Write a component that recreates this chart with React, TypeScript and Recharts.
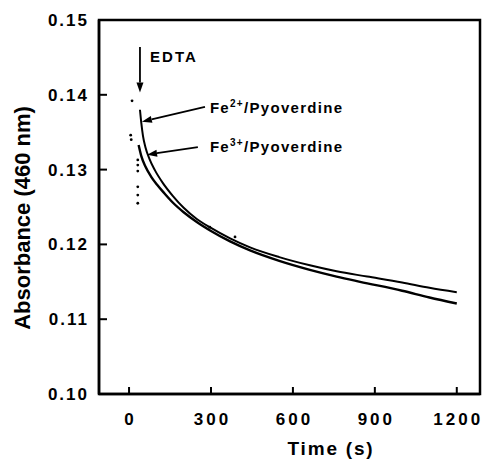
import React from 'react';
import { ComposedChart, Line, Scatter, XAxis, YAxis, ReferenceArea } from 'recharts';

// ---- data ----
const timeTicks = [0, 300, 600, 900, 1200];
const absTicks = [0.1, 0.11, 0.12, 0.13, 0.14, 0.15];

const fe2Time = [40, 45, 51, 60, 75, 95, 124, 160, 200, 248, 300, 370, 443, 550, 662, 760, 872, 1000, 1100, 1200];
const fe2Abs = [0.138, 0.1362, 0.1345, 0.133, 0.1314, 0.1299, 0.1282, 0.1265, 0.1249, 0.1234, 0.1222, 0.1208, 0.1196, 0.1183, 0.1172, 0.1164, 0.1157, 0.1149, 0.1142, 0.1136];

const fe3Time = [35, 45, 60, 80, 102, 130, 160, 200, 248, 300, 370, 443, 550, 662, 760, 846, 1000, 1100, 1200];
const fe3Abs = [0.1333, 0.1318, 0.1304, 0.1291, 0.128, 0.1268, 0.1256, 0.1243, 0.123, 0.1218, 0.1204, 0.1192, 0.1178, 0.1166, 0.1157, 0.115, 0.1138, 0.1129, 0.1121];

// stray points before / just after EDTA addition
const dotTime = [11, 6, 8, 32, 32, 32, 32, 32, 32, 296, 388];
const dotAbs = [0.1392, 0.1346, 0.134, 0.1313, 0.1306, 0.1298, 0.1277, 0.1266, 0.1255, 0.1223, 0.121];

const fe2 = fe2Time.map((t, i) => ({ t, a: fe2Abs[i] }));
const fe3 = fe3Time.map((t, i) => ({ t, a: fe3Abs[i] }));
const dots = dotTime.map((t, i) => ({ t, a: dotAbs[i] }));

// ---- layout ----
const W = 482;
const H = 468;
const PL = 99;
const PR = 480;
const PT = 20;
const PB = 394;
const X_DOMAIN = [-110, 1285];
const Y_DOMAIN = [0.1, 0.15];
const FONT = '"Liberation Sans", Arial, Helvetica, sans-serif';

const sx = (t: number) => PL + ((t - X_DOMAIN[0]) / (X_DOMAIN[1] - X_DOMAIN[0])) * (PR - PL);
const sy = (a: number) => PT + ((Y_DOMAIN[1] - a) / (Y_DOMAIN[1] - Y_DOMAIN[0])) * (PB - PT);

const YTick = (props: any) => {
  const { y, payload } = props;
  return (
    <g>
      <line x1={PL} x2={PL + 8} y1={y} y2={y} stroke="#000" strokeWidth={2} />
      <text x={89} y={y} dy={6} textAnchor="end" fontFamily={FONT} fontWeight="bold" fontSize={17} letterSpacing={2} fill="#000">
        {payload.value.toFixed(2)}
      </text>
    </g>
  );
};

const XTick = (props: any) => {
  const { x, payload } = props;
  return (
    <g>
      <line x1={x} x2={x} y1={PB} y2={PB - 7} stroke="#000" strokeWidth={2} />
      <text x={x + 1.5} y={PB + 31} textAnchor="middle" fontFamily={FONT} fontWeight="bold" fontSize={17} letterSpacing={3} fill="#000">
        {payload.value}
      </text>
    </g>
  );
};

const Arrow = ({ from, to }: { from: [number, number]; to: [number, number] }) => {
  const x1 = sx(from[0]);
  const y1 = sy(from[1]);
  const x2 = sx(to[0]);
  const y2 = sy(to[1]);
  const dx = x2 - x1;
  const dy = y2 - y1;
  const len = Math.hypot(dx, dy);
  const ux = dx / len;
  const uy = dy / len;
  const hl = 10;
  const hw = 3.5;
  const bx = x2 - ux * hl;
  const by = y2 - uy * hl;
  return (
    <g>
      <line x1={x1} y1={y1} x2={bx} y2={by} stroke="#000" strokeWidth={1.8} />
      <polygon
        points={`${x2},${y2} ${bx - uy * hw},${by + ux * hw} ${bx + uy * hw},${by - ux * hw}`}
        fill="#000"
      />
    </g>
  );
};

const Dot = (props: any) => <circle cx={props.cx} cy={props.cy} r={1.4} fill="#000" />;

export default function App() {
  return (
    <div style={{ position: 'absolute', left: 0, top: 0, width: W, height: H, background: '#fff' }}>
      <ComposedChart width={W} height={H} margin={{ top: PT, right: W - PR, bottom: 0, left: 0 }}>
        <XAxis
          type="number"
          dataKey="t"
          domain={X_DOMAIN}
          ticks={timeTicks}
          allowDataOverflow
          height={H - PB}
          axisLine={{ stroke: '#000', strokeWidth: 2.5 }}
          tickLine={false}
          tick={<XTick />}
        />
        <YAxis
          type="number"
          dataKey="a"
          domain={Y_DOMAIN}
          ticks={absTicks}
          allowDataOverflow
          width={PL}
          axisLine={{ stroke: '#000', strokeWidth: 2.5 }}
          tickLine={false}
          tick={<YTick />}
        />
        <ReferenceArea x1={X_DOMAIN[0]} x2={X_DOMAIN[1]} y1={Y_DOMAIN[0]} y2={Y_DOMAIN[1]} fill="none" stroke="#000" strokeWidth={2.5} />
        <Line data={fe2} dataKey="a" type="monotone" stroke="#000" strokeWidth={2} dot={false} isAnimationActive={false} />
        <Line data={fe3} dataKey="a" type="monotone" stroke="#000" strokeWidth={2.4} dot={false} isAnimationActive={false} />
        <Scatter data={dots} dataKey="a" shape={<Dot />} isAnimationActive={false} />
      </ComposedChart>
      <svg width={W} height={H} style={{ position: 'absolute', left: 0, top: 0, pointerEvents: 'none' }}>
        <text
          transform={`translate(30, 218) rotate(-90)`}
          textAnchor="middle"
          fontFamily={FONT}
          fontWeight="bold"
          fontSize={22}
          fill="#000"
        >
          Absorbance (460 nm)
        </text>
        <text x={331} y={455} textAnchor="middle" fontFamily={FONT} fontWeight="bold" fontSize={19} letterSpacing={1.8} fill="#000">
          Time (s)
        </text>
        <Arrow from={[40, 0.1464]} to={[40, 0.1403]} />
        <text x={sx(77)} y={sy(0.1444)} fontFamily={FONT} fontWeight="bold" fontSize={15} letterSpacing={2} fill="#000">
          EDTA
        </text>
        <Arrow from={[278, 0.1384]} to={[47, 0.1364]} />
        <text x={sx(296)} y={sy(0.1376)} fontFamily={FONT} fontWeight="bold" fontSize={15} letterSpacing={1.3} fill="#000">
          Fe<tspan fontSize={10} dy={-6}>2+</tspan>
          <tspan dy={6}>/Pyoverdine</tspan>
        </text>
        <Arrow from={[252, 0.133]} to={[66, 0.132]} />
        <text x={sx(296)} y={sy(0.1324)} fontFamily={FONT} fontWeight="bold" fontSize={15} letterSpacing={1.3} fill="#000">
          Fe<tspan fontSize={10} dy={-6}>3+</tspan>
          <tspan dy={6}>/Pyoverdine</tspan>
        </text>
      </svg>
    </div>
  );
}
